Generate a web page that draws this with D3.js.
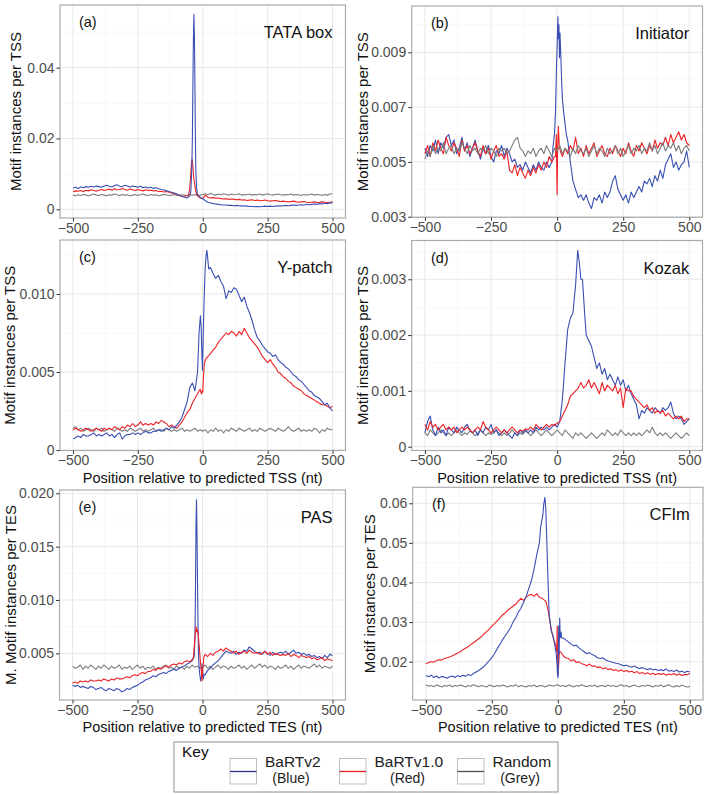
<!DOCTYPE html>
<html><head><meta charset="utf-8">
<script src="https://cdn.jsdelivr.net/npm/d3@7"></script>
<style>
body{margin:0;background:#fff}
svg{display:block}
text{font-family:"Liberation Sans",Arial,Helvetica,sans-serif}
</style>
</head><body>
<svg id="chart" width="709" height="794"></svg>
<script>
// ---------------- DATA (values in units of 0.001 motif instances) ----------------
const UNIT = 0.001;
const positions = d3.range(-500, 501, 10); // nt positions of the base grid
const xTicks = [-500, -250, 0, 250, 500];

// (a) TATA box
const tataBlue = [6.0,6.2,5.9,6.3,6.1,6.4,6.2,6.5,6.3,6.6, 6.4,6.2,6.6,6.8,6.5,6.3,6.7,6.9,6.5,6.4, 6.8,6.6,6.3,6.6,6.4,6.2,6.5,6.1,6.3,6.0, 6.2,5.9,6.1,5.8,5.6,5.5,5.2,5.0,4.8,4.6, 4.3,4.0,3.6,3.4,3.2,3.8,20,33,4.2,3.4, 3.0,
  2.4,2.0,1.8,1.6,1.5,1.4,1.3,1.2,1.2,1.1, 1.1,1.0,1.1,1.0,0.9,1.0,0.9,0.8,0.8,0.7, 0.8,0.7,0.8,0.9,0.8,0.9,0.8,0.9,1.0,0.9, 1.0,1.1,1.0,1.1,1.2,1.1,1.2,1.3,1.2,1.4, 1.3,1.4,1.5,1.4,1.6,1.5,1.7,1.6,1.8,1.8];
const tataBluePeak = [[-46,5],[-42,12],[-40,20],[-37,42],[-36,48],[-34,55],[-32,48],[-31,42],[-29,25],[-27,12],[-24,6],[-20,4.2]];
const tataRed = [5.0,5.2,5.1,5.3,5.0,5.4,5.2,5.5,5.3,5.1, 5.4,5.6,5.3,5.5,5.7,5.4,5.8,5.5,5.6,5.9, 5.6,5.4,5.7,5.5,5.3,5.6,5.4,5.2,5.5,5.3, 5.4,5.2,5.3,5.0,5.1,4.9,5.0,4.8,4.6,4.5, 4.2,3.9,3.6,3.7,3.9,6.5,13,7,4.0,3.2, 3.0,
  4.0,3.4,3.2,3.3,3.1,3.2,3.0,2.9,3.0,2.8, 2.9,2.8,2.7,2.8,2.6,2.7,2.5,2.6,2.7,2.5, 2.6,2.4,2.5,2.6,2.4,2.3,2.4,2.5,2.3,2.2, 2.3,2.2,2.1,2.2,2.3,2.1,2.0,2.1,2.2,2.0, 1.9,2.0,2.1,1.9,2.0,2.1,2.0,1.9,2.0,2.1];
const tataRedPeak = [[-55,4.0],[-50,6.0],[-46,10],[-43,13.5],[-41,14.2],[-38,12],[-35,9],[-32,7.5],[-28,5.5],[-24,4.2],[-20,3.8]];
const tataGrey = [4.0,3.8,4.1,3.9,4.2,4.0,3.8,4.1,4.3,4.0, 3.9,4.2,4.0,3.8,4.1,4.0,4.3,4.1,3.9,4.2, 4.0,4.1,3.8,4.0,4.2,3.9,4.1,4.3,4.0,3.9, 4.2,4.0,4.1,3.8,4.0,4.2,4.1,3.9,4.0,4.2, 4.0,3.9,4.1,4.0,3.8,4.2,4.0,4.1,3.9,4.0, 4.2,
  4.4,4.1,4.5,4.2,4.0,4.3,4.1,4.4,4.2,4.0, 4.3,4.1,4.2,4.4,4.0,4.2,4.1,4.3,4.0,4.2, 4.1,4.3,4.0,4.2,4.4,4.1,4.0,4.2,4.3,4.1, 4.0,4.2,4.1,4.3,4.0,4.2,4.1,3.9,4.2,4.0, 4.1,4.3,4.0,4.2,4.1,3.9,4.2,4.0,4.3,4.4];

// (b) Initiator
const initBlue = [5.5,5.2,5.6,5.4,5.8,5.3,5.7,5.5,5.9,6.0, 5.6,5.8,5.3,5.5,5.9,5.4,5.7,5.2,5.5,5.8, 5.4,5.1,5.5,5.3,5.6,5.2,5.0,5.4,5.3,5.6, 5.2,5.5,5.3,5.0,5.1,4.8,4.9,4.7,5.0,4.8, 4.6,4.9,4.7,5.0,4.8,4.7,5.0,4.8,5.0,5.3, 7.2,
  9.2,7.3,6.4,5.8,5.0,4.3,4.0,3.7,3.8,3.6, 3.8,3.5,3.3,3.7,3.6,3.8,3.5,3.9,3.7,3.9, 4.3,4.5,4.0,3.8,3.6,3.8,3.5,3.9,3.7,3.9, 4.1,3.9,4.3,4.2,4.4,4.1,4.5,4.3,4.7,4.4, 4.9,5.1,5.3,4.8,5.0,4.7,4.9,5.0,5.4,4.8];
const initBluePeak = [[-15,5.6],[-10,6.0],[-6,6.8],[-3,8.2],[0,9.2],[3,10.3],[5,9.5],[7,10.0],[9,8.8],[11,9.7],[14,8.9],[17,8.0],[20,7.3],[25,6.8],[30,6.4],[35,6.0],[40,5.8]];
const initRed = [5.3,5.6,5.2,5.7,5.4,5.8,5.5,5.3,5.9,5.6, 5.4,5.7,5.5,5.2,5.8,5.4,5.6,5.3,5.5,5.7, 5.4,5.2,5.6,5.3,5.5,5.1,5.4,5.6,5.2,5.3, 5.1,5.4,4.7,4.6,4.9,4.5,4.8,4.6,4.4,4.7, 4.5,4.8,4.6,4.9,4.7,5.0,4.8,5.2,5.0,5.2, 3.8,
  5.5,5.2,5.5,5.3,5.6,5.4,5.9,5.3,5.5,5.2, 5.6,5.3,5.5,5.7,5.2,5.4,5.6,5.3,5.2,5.5, 5.3,5.6,5.4,5.2,5.5,5.3,5.7,5.4,5.2,5.6, 5.4,5.7,5.5,5.3,5.6,5.4,5.8,5.5,5.7,5.6, 5.9,5.6,6.0,5.7,5.9,6.1,5.8,6.0,5.7,5.6];
const initRedPeak = [[-6,5.2],[-3,6.0],[-1,4.4],[0,3.8],[2,5.5],[5,6.3],[8,5.6],[12,5.4]];
const initGrey = [5.1,5.4,5.2,5.6,5.3,5.5,5.4,5.7,5.3,5.5, 5.6,5.3,5.5,5.4,5.7,5.5,5.3,5.6,5.4,5.5, 5.3,5.5,5.4,5.6,5.3,5.5,5.4,5.2,5.5,5.4, 5.5,5.3,5.4,5.6,5.8,5.9,5.5,5.4,5.2,5.4, 5.3,5.5,5.2,5.4,5.5,5.3,5.6,5.4,5.2,5.5, 5.4,
  5.6,5.3,5.5,5.4,5.2,5.5,5.3,5.6,5.4,5.3, 5.5,5.2,5.4,5.6,5.3,5.5,5.4,5.2,5.5,5.3, 5.4,5.6,5.3,5.5,5.2,5.4,5.6,5.3,5.5,5.4, 5.6,5.3,5.5,5.4,5.7,5.4,5.6,5.3,5.5,5.7, 5.4,5.6,5.5,5.7,5.4,5.6,5.3,5.5,5.6,5.4];

// (c) Y-patch
const ypBlue = [0.7,0.8,0.9,0.8,1.0,0.9,0.9,1.0,1.1,0.9, 1.0,0.9,1.0,1.1,0.9,1.0,0.8,1.0,1.1,0.7, 0.9,1.0,1.0,1.1,1.0,1.1,1.0,1.1,1.2,1.1, 1.1,1.2,1.2,1.3,1.2,1.3,1.4,1.3,1.5,1.4, 1.6,1.8,2.1,2.6,3.1,4.0,4.3,3.8,5.0,8.5, 7.0,
  11.8,11.6,11.7,11.3,11.0,11.2,10.8,10.5,9.7,10.2, 10.1,10.4,10.3,9.9,9.5,9.8,9.2,8.8,8.3,7.7, 7.2,7.0,6.7,6.5,6.3,6.2,6.0,6.1,5.8,5.6, 5.5,5.3,5.2,5.0,4.8,4.7,4.5,4.4,4.2,4.0, 3.8,3.7,3.5,3.4,3.3,3.1,2.9,3.0,2.7,2.5];
const ypBluePeak = [[-14,7.6],[-9,8.6],[-6,7.8],[-3,6.0],[-1,5.1],[2,7.5],[5,9.5],[9,11.5],[13,12.5],[16,12.8],[19,12.3],[23,11.6]];
const ypRed = [1.3,1.4,1.3,1.2,1.3,1.4,1.3,1.2,1.3,1.4, 1.3,1.2,1.4,1.3,1.4,1.3,1.5,1.4,1.3,1.5, 1.4,1.6,1.5,1.7,1.5,1.6,1.8,1.6,1.7,1.6, 1.7,1.6,1.8,1.7,1.9,1.8,1.7,1.5,1.6,1.5, 1.4,1.6,1.8,2.1,2.4,2.6,3.0,3.3,3.6,3.9, 3.7,
  5.8,6.0,6.2,6.4,6.6,6.9,7.1,7.3,7.5,7.4, 7.6,7.5,7.3,7.6,7.4,7.8,7.5,7.2,7.0,6.8, 6.6,6.3,6.0,5.8,5.6,5.8,5.5,5.3,5.0,4.9, 4.7,4.6,4.4,4.3,4.1,4.0,3.9,3.8,3.6,3.5, 3.4,3.3,3.2,3.1,3.0,2.9,2.9,2.8,2.7,2.8];
const ypRedPeak = [[-5,3.6],[-2,3.8],[0,3.7],[3,4.8],[6,5.5],[10,5.8]];
const ypGrey = [1.4,1.5,1.3,1.4,1.2,1.3,1.4,1.3,1.2,1.4, 1.3,1.4,1.2,1.3,1.4,1.3,1.2,1.4,1.3,1.2, 1.3,1.2,1.4,1.3,1.2,1.3,1.4,1.2,1.3,1.2, 1.3,1.4,1.2,1.3,1.3,1.2,1.4,1.3,1.2,1.3, 1.2,1.3,1.4,1.2,1.3,1.2,1.3,1.4,1.2,1.3, 1.2,
  1.3,1.1,1.3,1.2,1.4,1.2,1.3,1.1,1.3,1.2, 1.4,1.3,1.2,1.4,1.3,1.2,1.3,1.4,1.2,1.3, 1.2,1.4,1.3,1.2,1.3,1.4,1.3,1.2,1.4,1.3, 1.2,1.3,1.5,1.3,1.2,1.3,1.4,1.2,1.3,1.2, 1.3,1.2,1.4,1.3,1.1,1.3,1.2,1.4,1.3,1.3];

// (d) Kozak
const kozBlue = [0.25,0.45,0.55,0.30,0.20,0.35,0.25,0.30,0.20,0.35, 0.30,0.25,0.35,0.30,0.25,0.35,0.40,0.30,0.25,0.30, 0.20,0.30,0.25,0.35,0.30,0.40,0.25,0.30,0.20,0.25, 0.30,0.25,0.20,0.15,0.25,0.20,0.30,0.25,0.30,0.25, 0.30,0.25,0.35,0.30,0.35,0.30,0.35,0.30,0.35,0.40, 0.35,
  0.45,0.85,1.5,2.1,2.3,2.4,2.9,3.4,3.0,2.7, 2.0,1.9,1.8,1.6,1.4,1.5,1.3,1.4,1.2,1.3, 1.2,1.1,1.25,1.1,1.2,1.0,1.1,0.95,0.85,0.75, 0.5,0.65,0.6,0.7,0.65,0.6,0.7,0.65,0.6,0.7, 0.65,0.7,0.8,0.6,0.5,0.55,0.5,0.4,0.45,0.5];
const kozBluePeak = [[78,3.52],[84,3.3],[90,3.0],[96,3.0],[104,2.4]];
const kozRed = [0.40,0.30,0.45,0.35,0.40,0.30,0.35,0.40,0.30,0.35, 0.30,0.35,0.25,0.30,0.35,0.30,0.35,0.30,0.25,0.30, 0.35,0.30,0.45,0.35,0.30,0.25,0.30,0.35,0.30,0.25, 0.30,0.25,0.30,0.35,0.30,0.25,0.30,0.28,0.32,0.30, 0.35,0.30,0.40,0.35,0.30,0.35,0.40,0.35,0.40,0.38, 0.42,
  0.45,0.55,0.65,0.75,0.90,0.95,1.00,1.05,1.15,1.05, 1.10,1.20,1.05,1.15,1.05,0.95,1.15,1.00,1.10,1.05, 1.00,1.10,0.95,1.05,0.70,1.05,1.00,1.00,0.90,0.85, 0.80,0.75,0.70,0.75,0.65,0.70,0.60,0.65,0.60,0.65, 0.55,0.60,0.55,0.50,0.55,0.50,0.55,0.45,0.50,0.50];
const kozGrey = [0.25,0.20,0.30,0.25,0.20,0.25,0.30,0.25,0.20,0.25, 0.20,0.25,0.30,0.25,0.20,0.25,0.22,0.28,0.25,0.20, 0.25,0.30,0.25,0.20,0.25,0.22,0.25,0.30,0.25,0.20, 0.25,0.20,0.25,0.30,0.25,0.20,0.25,0.22,0.28,0.25, 0.20,0.25,0.30,0.25,0.20,0.25,0.30,0.25,0.20,0.25, 0.30,
  0.25,0.20,0.30,0.25,0.20,0.15,0.25,0.20,0.25,0.20, 0.15,0.20,0.25,0.20,0.15,0.20,0.25,0.20,0.30,0.25, 0.20,0.25,0.20,0.30,0.25,0.20,0.25,0.20,0.25,0.20, 0.25,0.20,0.25,0.30,0.25,0.35,0.25,0.20,0.25,0.20, 0.25,0.20,0.15,0.20,0.25,0.20,0.15,0.20,0.25,0.20];

// (e) PAS
const pasBlue = [2.0,1.9,2.0,1.8,1.9,1.8,1.7,1.9,1.8,1.6, 1.7,1.8,1.6,1.5,1.7,1.6,1.5,1.7,1.6,1.4, 1.5,1.7,1.6,1.8,1.9,2.0,2.2,2.3,2.5,2.6, 2.7,2.9,2.8,3.0,3.1,3.2,3.1,3.3,3.4,3.5, 3.4,3.6,3.7,3.8,4.0,4.1,4.3,4.5,13.0,3.0, 3.5,
  3.0,3.4,3.6,3.9,4.1,4.3,4.6,4.9,5.2,5.1, 5.0,5.2,4.9,5.1,5.0,5.3,5.2,5.6,5.4,5.2, 5.0,5.1,4.9,5.2,5.0,4.8,5.1,4.9,5.0,5.1, 5.0,5.2,4.9,5.1,5.3,5.0,5.1,4.9,5.0,4.8, 4.9,4.7,4.8,4.6,4.7,4.5,4.8,4.6,4.9,4.8];
const pasBluePeak = [[-32,4.7],[-29,6.5],[-27,11.0],[-25,17.0],[-23,19.4],[-21,16.0],[-18,9.0],[-15,4.5],[-12,3.3],[-7,2.4],[-4,2.8],[-2,4.0],[0,3.5],[3,2.6],[6,3.0]];
const pasRed = [2.2,2.3,2.2,2.4,2.3,2.4,2.3,2.5,2.4,2.4, 2.5,2.4,2.6,2.5,2.4,2.6,2.5,2.7,2.6,2.6, 2.7,2.8,2.7,2.9,3.0,2.9,3.1,3.2,3.1,3.3, 3.3,3.5,3.4,3.6,3.5,3.7,3.8,3.7,3.9,4.0, 3.9,4.1,4.0,4.2,4.3,4.2,4.4,5.5,7.0,5.0, 2.5,
  4.9,4.7,5.0,4.8,5.1,5.2,5.4,5.2,5.5,5.3, 5.2,5.0,5.2,4.9,5.1,5.2,5.0,5.3,5.1,5.0, 5.1,4.9,5.0,5.2,4.9,5.1,4.8,5.0,4.9,4.8, 4.9,4.8,5.0,4.7,4.9,4.8,4.6,4.8,4.7,4.6, 4.7,4.5,4.6,4.4,4.5,4.6,4.3,4.5,4.4,4.3];
const pasRedPeak = [[-35,4.6],[-32,5.5],[-28,6.8],[-25,7.5],[-22,7.0],[-19,7.2],[-16,6.6],[-13,5.8],[-8,4.2],[-4,3.2],[-2,2.4],[2,3.8],[5,4.6]];
const pasGrey = [3.8,3.6,3.7,3.9,3.5,3.8,3.6,3.9,3.7,3.5, 3.8,3.6,3.9,3.7,3.5,3.8,3.6,3.7,3.9,3.5, 3.7,3.6,3.8,3.5,3.7,3.9,3.6,3.8,3.5,3.7, 3.6,3.8,3.5,3.7,3.6,3.8,3.9,3.6,3.7,3.5, 3.8,3.6,3.7,3.5,3.8,3.6,3.9,3.7,3.8,3.6, 3.7,
  3.9,3.6,3.8,3.5,3.7,3.9,3.6,3.8,3.7,3.5, 3.8,3.6,3.7,3.9,3.6,3.8,3.5,3.7,3.9,3.6, 3.8,4.0,3.7,3.9,3.6,3.8,3.7,3.5,3.8,3.6, 3.7,3.9,3.6,3.8,3.5,3.7,3.9,3.6,3.8,3.7, 3.6,3.8,4.0,3.7,3.9,3.6,3.8,3.7,3.6,3.8];

// (f) CFIm
const cfBlue = [16.5,16.2,16.6,16.0,16.4,15.9,16.3,16.1,15.8,16.2, 16.4,16.0,16.5,16.2,16.6,16.3,16.8,16.5,17.0,17.4, 17.8,18.3,18.8,19.5,20.3,21.0,22.0,23.3,24.3,25.5, 26.5,27.5,28.5,30.0,31.0,32.5,33.5,35.0,36.5,38.5, 40.5,43.5,47.0,50.0,52.0,60.0,47.0,30.0,27.0,24.0, 16.0,
  27.0,26.0,25.5,25.0,24.5,24.0,24.2,23.5,23.0,22.5, 22.0,22.3,21.8,21.5,21.0,20.8,21.0,20.5,20.2,20.0, 19.8,19.6,19.5,19.2,19.0,19.1,18.8,18.6,18.9,18.5, 18.3,18.5,18.2,18.0,18.3,17.9,18.1,17.8,18.0,17.7, 18.2,17.6,17.8,17.5,17.9,17.4,17.6,17.3,17.6,17.4];
const cfBluePeak = [[-65,54],[-57,57],[-53,60],[-49,61.5],[-46,59],[-43,53],[-37,40],[-33,32],[-25,28],[-15,25.5],[-6,22],[-3,19],[-1,16.5],[1,16],[3,29],[5,22],[7,31],[9,26],[12,27.5],[15,26]];
const cfRed = [19.5,19.8,20.0,19.9,20.3,20.5,20.4,20.8,21.0,21.2, 21.5,21.8,22.2,22.5,23.0,23.4,23.8,24.3,24.8,25.3, 25.8,26.3,27.0,27.6,28.2,29.0,29.6,30.3,31.0,31.8, 32.3,33.0,33.5,34.0,34.5,35.3,36.0,35.5,36.3,36.8, 37.0,36.5,37.2,36.2,36.0,35.5,35.3,34.5,30.5,27.0, 16.0,
  22.5,21.5,21.0,20.8,20.2,20.5,19.8,20.0,19.5,19.3, 19.0,19.4,18.8,19.0,18.5,18.7,18.2,18.5,18.0,18.2, 17.8,18.0,17.6,17.9,17.5,17.8,17.4,17.6,17.2,17.5, 17.0,17.3,16.9,17.2,16.8,17.1,16.7,17.0,16.8,17.0, 16.6,16.9,16.7,17.0,16.6,16.9,16.5,16.8,16.7,17.0];
const cfRedPeak = [[-45,35.2],[-37,33],[-25,28],[-15,25.5],[-7,24],[-4,22.5],[-2.5,29],[-1,20],[1,17],[3,19],[6,22.5]];
const cfGrey = [14.2,13.8,14.0,13.7,14.1,13.9,13.6,14.0,13.8,14.1, 13.7,14.0,13.8,14.1,13.9,13.6,14.0,13.8,14.2,13.9, 13.7,14.0,13.8,13.6,14.1,13.9,13.7,14.0,13.8,14.1, 13.9,13.6,14.0,13.8,14.2,13.7,14.0,13.8,13.6,14.0, 13.8,14.1,13.7,13.9,14.0,13.6,13.9,14.1,13.8,14.0, 14.2,
  13.8,14.0,13.7,14.1,13.9,13.6,14.0,13.8,14.2,13.9, 13.7,14.0,13.8,14.1,13.6,13.9,14.0,13.7,14.1,13.8, 14.0,13.7,13.9,14.2,13.8,14.0,13.6,13.9,14.1,13.8, 13.7,14.0,13.8,14.1,13.9,13.6,14.0,13.8,14.1,13.7, 13.9,14.2,13.8,13.6,14.0,13.7,14.1,13.8,13.6,13.7];

// y tick values per panel
const yTicksA = [0, 0.02, 0.04];
const yTicksB = [0.003, 0.005, 0.007, 0.009];
const yTicksC = [0, 0.005, 0.010];
const yTicksD = [0, 0.001, 0.002, 0.003];
const yTicksE = [0.005, 0.010, 0.015, 0.020];
const yTicksF = [0.02, 0.03, 0.04, 0.05, 0.06];

const seriesNames = ["BaRTv2", "BaRTv1.0", "Random"];
const seriesSub = ["(Blue)", "(Red)", "(Grey)"];

// ---------------- LAYOUT / STYLE ----------------
const COL = {blue: "#3a4fb3", red: "#ec2227", grey: "#7d7d7d"};
const LEGCOL = ["#2e2f8f", "#e32026", "#4d4d4d"];

function build(grid, peak) {
  let pts = positions.map((x, i) => [x, grid[i]]);
  if (peak) {
    const lo = d3.min(peak, p => p[0]), hi = d3.max(peak, p => p[0]);
    pts = pts.filter(p => p[0] < lo || p[0] > hi).concat(peak);
    pts.sort((a, b) => a[0] - b[0]);
  }
  return pts;
}

const fmtZero = f => d => d === 0 ? "0" : d3.format(f)(d);

const panels = [
  {tag: "(a)", title: "TATA box", L: 60, R: 345.5, T: 5, B: 218, yd: [-0.00246, 0.0577], ticks: yTicksA, fmt: fmtZero(".2f"),
   ytitle: "Motif instances per TSS", ytx: 16, xtitle: null,
   series: [[tataGrey, null, COL.grey], [tataRed, tataRedPeak, COL.red], [tataBlue, tataBluePeak, COL.blue]]},
  {tag: "(b)", title: "Initiator", L: 411.7, R: 702.5, T: 6, B: 217.3, yd: [0.00298, 0.01069], ticks: yTicksB, fmt: fmtZero(".3f"),
   ytitle: "Motif instances per TSS", ytx: 363, xtitle: null,
   series: [[initBlue, initBluePeak, COL.blue], [initRed, initRedPeak, COL.red], [initGrey, null, COL.grey]]},
  {tag: "(c)", title: "Y-patch", L: 60, R: 345.5, T: 240, B: 450.5, yd: [-0.00003, 0.01346], ticks: yTicksC, fmt: fmtZero(".3f"),
   ytitle: "Motif instances per TSS", ytx: 10, xtitle: "Position relative to predicted TSS (nt)",
   series: [[ypGrey, null, COL.grey], [ypRed, ypRedPeak, COL.red], [ypBlue, ypBluePeak, COL.blue]]},
  {tag: "(d)", title: "Kozak", L: 411.7, R: 702.5, T: 240.5, B: 450.5, yd: [-0.000068, 0.003695], ticks: yTicksD, fmt: fmtZero(".3f"),
   ytitle: "Motif instances per TSS", ytx: 363, xtitle: "Position relative to predicted TSS (nt)",
   series: [[kozGrey, null, COL.grey], [kozBlue, kozBluePeak, COL.blue], [kozRed, null, COL.red]]},
  {tag: "(e)", title: "PAS", L: 59.5, R: 345.5, T: 490, B: 700, yd: [0.000622, 0.02031], ticks: yTicksE, fmt: fmtZero(".3f"),
   ytitle: "M. Motif instances per TES", ytx: 11, xtitle: "Position relative to predicted TES (nt)",
   series: [[pasGrey, null, COL.grey], [pasBlue, pasBluePeak, COL.blue], [pasRed, pasRedPeak, COL.red]]},
  {tag: "(f)", title: "CFIm", L: 412.7, R: 703, T: 487.3, B: 700, yd: [0.01033, 0.06404], ticks: yTicksF, fmt: fmtZero(".2f"),
   ytitle: "Motif instances per TES", ytx: 370, xtitle: "Position relative to predicted TES (nt)",
   series: [[cfGrey, null, COL.grey], [cfRed, cfRedPeak, COL.red], [cfBlue, cfBluePeak, COL.blue]]}
];

const svg = d3.select("#chart");
const defs = svg.append("defs");

panels.forEach((p, pi) => {
  const x = d3.scaleLinear().domain([-550, 550]).range([p.L, p.R]);
  const y = d3.scaleLinear().domain(p.yd).range([p.B, p.T]);
  const g = svg.append("g");
  const w = p.R - p.L, h = p.B - p.T;

  defs.append("clipPath").attr("id", "clip" + pi)
    .append("rect").attr("x", p.L).attr("y", p.T).attr("width", w).attr("height", h);

  // minor grid
  const xMinor = [-375, -125, 125, 375];
  const step = p.ticks[1] - p.ticks[0];
  const yMinor = [];
  for (let i = -1; i < p.ticks.length; i++) {
    const v = p.ticks[0] + (i + 0.5) * step;
    if (v > p.yd[0] && v < p.yd[1]) yMinor.push(v);
  }
  g.append("g").selectAll("line").data(xMinor).join("line")
    .attr("x1", d => x(d)).attr("x2", d => x(d)).attr("y1", p.T).attr("y2", p.B)
    .attr("stroke", "#f2f2f2").attr("stroke-width", 0.6);
  g.append("g").selectAll("line").data(yMinor).join("line")
    .attr("y1", d => y(d)).attr("y2", d => y(d)).attr("x1", p.L).attr("x2", p.R)
    .attr("stroke", "#f2f2f2").attr("stroke-width", 0.6);
  // major grid
  g.append("g").selectAll("line").data(xTicks).join("line")
    .attr("x1", d => x(d)).attr("x2", d => x(d)).attr("y1", p.T).attr("y2", p.B)
    .attr("stroke", "#e8e8e8").attr("stroke-width", 1);
  g.append("g").selectAll("line").data(p.ticks).join("line")
    .attr("y1", d => y(d)).attr("y2", d => y(d)).attr("x1", p.L).attr("x2", p.R)
    .attr("stroke", "#e8e8e8").attr("stroke-width", 1);

  // lines
  const line = d3.line().x(d => x(d[0])).y(d => y(d[1] * UNIT));
  const lg = g.append("g").attr("clip-path", `url(#clip${pi})`);
  p.series.forEach(s => {
    lg.append("path").datum(build(s[0], s[1]))
      .attr("d", line).attr("fill", "none").attr("stroke", s[2])
      .attr("stroke-width", 1.1).attr("stroke-linejoin", "round");
  });

  // border
  g.append("rect").attr("x", p.L).attr("y", p.T).attr("width", w).attr("height", h)
    .attr("fill", "none").attr("stroke", "#ababab").attr("stroke-width", 1.2);

  // axes
  const xAxis = d3.axisBottom(x).tickValues(xTicks).tickSize(3.5).tickPadding(1.5)
    .tickFormat(d => d < 0 ? "\u2212" + Math.abs(d) : String(d));
  const ax = g.append("g").attr("transform", `translate(0,${p.B})`).call(xAxis);
  const yAxis = d3.axisLeft(y).tickValues(p.ticks).tickSize(3.5).tickPadding(2).tickFormat(p.fmt);
  const ay = g.append("g").attr("transform", `translate(${p.L},0)`).call(yAxis);
  [ax, ay].forEach(a => {
    a.select(".domain").remove();
    a.selectAll(".tick line").attr("stroke", "#333").attr("stroke-width", 1);
    a.selectAll(".tick text").attr("fill", "#4d4d4d").style("font-size", "14px")
      .style("font-family", '"Liberation Sans", Arial, sans-serif');
  });

  // labels
  g.append("text").attr("x", x(-500) + 6).attr("y", p.T + 22).text(p.tag)
    .style("font-size", "14.5px").attr("fill", "#111");
  g.append("text").attr("x", x(500)).attr("y", p.T + 33).attr("text-anchor", "end").text(p.title)
    .style("font-size", "16.5px").attr("fill", "#111");
  g.append("text").attr("transform", `translate(${p.ytx + 5},${(p.T + p.B) / 2}) rotate(-90)`)
    .attr("text-anchor", "middle").text(p.ytitle).style("font-size", "15px").attr("fill", "#111");
  if (p.xtitle) {
    g.append("text").attr("x", (p.L + p.R) / 2).attr("y", p.B + 32).attr("text-anchor", "middle")
      .text(p.xtitle).style("font-size", "14.5px").attr("fill", "#111");
  }
});

// ---------------- LEGEND ----------------
const leg = svg.append("g");
leg.append("rect").attr("x", 174).attr("y", 742).attr("width", 384).attr("height", 50)
  .attr("fill", "#fff").attr("stroke", "#8f8f8f").attr("stroke-width", 1);
leg.append("text").attr("x", 182).attr("y", 757).text("Key").style("font-size", "15.5px").attr("fill", "#111");
const keyX = [230, 339.5, 457.5];
seriesNames.forEach((name, i) => {
  const kx = keyX[i];
  leg.append("rect").attr("x", kx).attr("y", 758.5).attr("width", 26.5).attr("height", 25.5)
    .attr("fill", "#fff").attr("stroke", "#bdbdbd").attr("stroke-width", 1);
  leg.append("line").attr("x1", kx).attr("x2", kx + 26.5).attr("y1", 771.5).attr("y2", 771.5)
    .attr("stroke", LEGCOL[i]).attr("stroke-width", 1.3);
  leg.append("text").attr("x", kx + 35).attr("y", 767).text(name).style("font-size", "15.5px").attr("fill", "#222");
  const nameW = [52, 66, 55][i];
  leg.append("text").attr("x", kx + 35 + nameW / 2).attr("y", 783).attr("text-anchor", "middle")
    .text(seriesSub[i]).style("font-size", "14px").attr("fill", "#222");
});
</script>
</body></html>
